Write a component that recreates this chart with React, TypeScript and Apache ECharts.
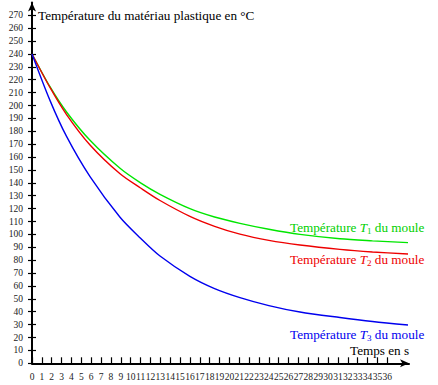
import React, { useEffect, useRef } from "react";
import * as echarts from "echarts";

// [time (s), temperature (°C)]
const t1Points: [number, number][] = [
  [0, 240], [1.82, 214.6], [3.5, 195], [5.88, 173], [8.92, 151.3], [11, 140],
  [12.97, 131.1], [16, 120], [18.5, 113.5], [21.07, 108.6], [24, 104],
  [27.15, 100], [31.2, 96.6], [34.5, 95], [38.1, 93.6],
];
const t2Points: [number, number][] = [
  [0, 240], [1.82, 214], [3.5, 193], [5.88, 169.4], [8.92, 147], [11, 136],
  [12.97, 126.3], [16, 114], [18.5, 106.3], [21.07, 100.2], [24, 95.4],
  [27.15, 91.8], [31.2, 88.4], [34.5, 86.4], [38.1, 84.8],
];
const t3Points: [number, number][] = [
  [0, 240], [1.82, 204], [3.5, 176], [5.88, 144.8], [8.92, 113.3], [11, 97],
  [12.97, 83.2], [16, 67.5], [18.5, 58], [21.07, 51], [24, 44.8],
  [27.15, 39.8], [31.2, 35.5], [34.5, 32.4], [38.1, 29.7],
];

const xTickValues: number[] = Array.from({ length: 37 }, (_, i) => i);
const yTickValues: number[] = Array.from({ length: 28 }, (_, i) => i * 10);

const titleText = "Température du matériau plastique en °C";
const xName = "Temps en s";
const serif = "Liberation Serif";

export default function App() {
  const ref = useRef<HTMLDivElement>(null);
  useEffect(() => {
    if (!ref.current) return;
    const chart = echarts.init(ref.current, null, { renderer: "svg" });
    const fs = 13.2;
    const rich = (color: string) => ({
      a: { fontFamily: serif, fontSize: fs, color },
      i: { fontFamily: serif, fontSize: fs, fontStyle: "italic", color },
      s: { fontFamily: serif, fontSize: 9, color, padding: [7, 0, 0, 0] },
    });
    const curveLabel = (n: string, color: string, x: number, y: number) => ({
      type: "text",
      x,
      y,
      style: {
        text: `{a|Température }{i|T}{s|${n}}{a| du moule}`,
        rich: rich(color),
        fill: color,
        verticalAlign: "middle",
        font: `${fs}px ${serif}`,
      },
      z: 10,
    });
    const lineSeries = (data: [number, number][], color: string) => ({
      type: "line",
      data,
      smooth: 0.3,
      showSymbol: false,
      lineStyle: { color, width: 1.4 },
      itemStyle: { color },
      z: 3,
    });
    chart.setOption({
      animation: false,
      grid: { left: 32, right: 29, top: 2.4, bottom: 21.7, containLabel: false },
      xAxis: [
        {
          type: "value",
          min: 0,
          max: 38.2,
          interval: 1,
          splitLine: { show: false },
          axisLine: {
            show: true,
            symbol: ["none", "arrow"],
            symbolSize: [6, 9],
            lineStyle: { color: "#000", width: 2 },
          },
          axisTick: {
            show: true,
            inside: true,
            length: 6,
            customValues: xTickValues,
            lineStyle: { color: "#000", width: 1.2 },
          },
          axisLabel: {
            show: true,
            customValues: xTickValues,
            fontFamily: serif,
            fontSize: 9.5,
            color: "#222",
            margin: 9,
            formatter: (v: number) => String(v),
          },
        },
      ],
      yAxis: [
        {
          type: "value",
          min: 0,
          max: 280,
          interval: 10,
          splitLine: { show: false },
          axisLine: {
            show: true,
            symbol: ["none", "arrow"],
            symbolSize: [6, 9],
            lineStyle: { color: "#000", width: 2 },
          },
          axisTick: {
            show: true,
            inside: false,
            length: 4,
            customValues: yTickValues,
            lineStyle: { color: "#000", width: 1.2 },
          },
          axisLabel: {
            show: true,
            customValues: yTickValues,
            fontFamily: serif,
            fontSize: 9.5,
            color: "#222",
            margin: 9,
          },
        },
        {
          type: "value",
          min: 0,
          max: 280,
          interval: 10,
          position: "left",
          splitLine: { show: false },
          axisLine: { show: false },
          axisTick: {
            show: true,
            inside: true,
            length: 4,
            customValues: yTickValues.slice(1),
            lineStyle: { color: "#000", width: 1.2 },
          },
          axisLabel: { show: false },
        },
      ],
      series: [
        lineSeries(t1Points, "#00e600"),
        lineSeries(t2Points, "#ee0000"),
        lineSeries(t3Points, "#0000ee"),
      ],
      graphic: [
        {
          type: "text",
          x: 38,
          y: 15,
          style: { text: titleText, font: `${fs}px ${serif}`, fill: "#000", verticalAlign: "middle" },
        },
        {
          type: "text",
          x: 350,
          y: 350.5,
          style: { text: xName, font: `${fs}px ${serif}`, fill: "#000", verticalAlign: "middle" },
        },
        curveLabel("1", "#00d000", 290, 227),
        curveLabel("2", "#ee0000", 290, 259),
        curveLabel("3", "#0000ee", 290, 334.5),
      ],
    });
    return () => chart.dispose();
  }, []);
  return <div ref={ref} style={{ width: 438, height: 385, position: "absolute", left: 0, top: 0 }} />;
}
